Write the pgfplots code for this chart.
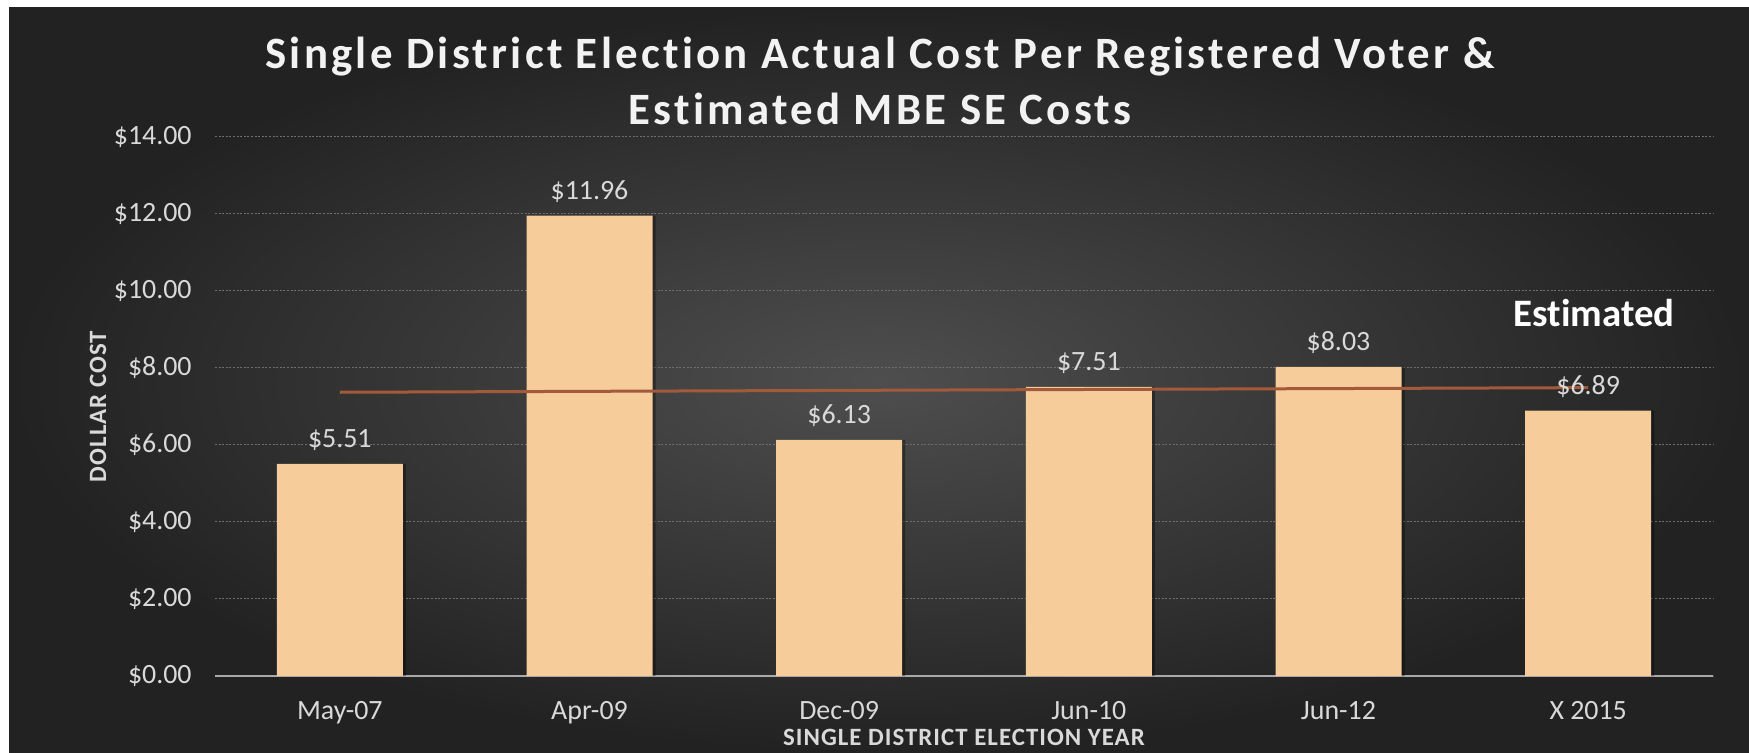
\documentclass[border=0pt]{standalone}
\usepackage{pgfplots}
\pgfplotsset{compat=1.18}
\usepackage{fontspec}
\setmainfont{Carlito}[Ligatures=NoCommon]
\newfontfamily\titlefont{Carlito}[Ligatures=NoCommon, LetterSpace=7.3]
\newfontfamily\labelfont{Carlito}[Ligatures=NoCommon, LetterSpace=4]
\definecolor{bgin}{RGB}{78,78,78}
\definecolor{bgout}{RGB}{34,34,34}
\definecolor{barfill}{RGB}{245,204,154}
\definecolor{trend}{RGB}{163,90,58}
\definecolor{txt}{RGB}{217,217,217}
\definecolor{titlec}{RGB}{242,242,242}
\definecolor{gridc}{RGB}{110,110,110}
\definecolor{axisc}{RGB}{170,170,170}
\begin{document}
\begin{tikzpicture}
\useasboundingbox (0,0) rectangle (874.5bp,376.5bp);
\fill[white] (0,0) rectangle (874.5bp,376.5bp);
\shade[inner color=bgin, outer color=bgout] (4.5bp,0) rectangle (874.5bp,372.5bp);
\begin{axis}[
    at={(107.5bp,38.5bp)},
    anchor=south west,
    scale only axis,
    width=749bp,
    height=269.5bp,
    xmin=-0.5, xmax=5.5,
    ymin=0, ymax=14,
    xtick={0,...,5},
    xticklabels={May-07,Apr-09,Dec-09,Jun-10,Jun-12,X 2015},
    ytick={0,2,...,14},
    yticklabels={\$0.00,\$2.00,\$4.00,\$6.00,\$8.00,\$10.00,\$12.00,\$14.00},
    axis lines=left,
    y axis line style={draw=none},
    x axis line style={draw=axisc, line width=1bp, -},
    major tick length=0pt,
    ymajorgrids,
    grid style={gridc, line width=0.5bp, dash pattern=on 1bp off 0.8bp},
    xticklabel style={font=\fontsize{14}{16}\selectfont, text=txt, anchor=base, inner sep=0pt, yshift=-21.75bp},
    yticklabel style={font=\fontsize{14}{16}\selectfont, text=txt, anchor=east, inner sep=0pt, xshift=-11.5bp},
    xlabel={SINGLE DISTRICT ELECTION YEAR},
    ylabel={DOLLAR COST},
    xlabel style={at={(axis description cs:0.5,-0.1132)}, anchor=center, font=\labelfont\bfseries\fontsize{12.5}{14}\selectfont, text=txt},
    ylabel style={at={(axis description cs:-0.0781,0.5)}, anchor=center, rotate=0, font=\labelfont\bfseries\fontsize{12.5}{14}\selectfont, text=txt},
    clip=false,
]
% soft shadow to the right of each bar
\addplot[ybar, bar width=63bp, bar shift=1.5bp, fill=black, fill opacity=0.35, draw=none, forget plot] coordinates {
    (0,5.51) (1,11.96) (2,6.13) (3,7.51) (4,8.03) (5,6.89)
};
\addplot[ybar, bar width=63bp, bar shift=0pt, fill=barfill, draw=none,
    nodes near coords={\$\pgfmathprintnumber[fixed,fixed zerofill,precision=2,assume math mode=true]{\pgfplotspointmeta}},
    every node near coord/.append style={anchor=base, inner sep=0pt, yshift=8bp, text=txt, font=\fontsize{14}{16}\selectfont},
] coordinates {
    (0,5.51) (1,11.96) (2,6.13) (3,7.51) (4,8.03) (5,6.89)
};
\addplot[sharp plot, no marks, draw=trend, line width=1.5bp] coordinates {
    (0,7.37) (5,7.49)
};
\end{axis}
\node[text=titlec, font=\titlefont\bfseries\fontsize{22.5}{27}\selectfont, anchor=base] at (440bp,342bp) {Single District Election Actual Cost Per Registered Voter \&};
\node[text=titlec, font=\titlefont\bfseries\fontsize{22.5}{27}\selectfont, anchor=base] at (440bp,314bp) {Estimated MBE SE Costs};
\node[text=white, font=\bfseries\fontsize{19.5}{23}\selectfont, anchor=base] at (797bp,213bp) {Estimated};
\end{tikzpicture}
\end{document}
